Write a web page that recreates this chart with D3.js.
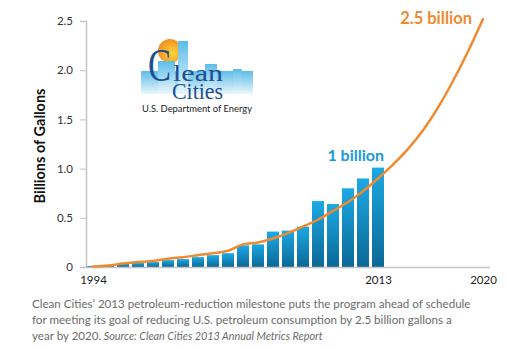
<!DOCTYPE html>
<html>
<head>
<meta charset="utf-8">
<script src="https://cdn.jsdelivr.net/npm/d3@7"></script>
<style>
  body { margin: 0; background: #fff; }
  svg { display: block; }
</style>
</head>
<body>
<div id="chart"></div>
<script>
// Clean Cities petroleum reduction, billions of gallons
const barYears = [1994, 1995, 1996, 1997, 1998, 1999, 2000, 2001, 2002, 2003,
                  2004, 2005, 2006, 2007, 2008, 2009, 2010, 2011, 2012, 2013];
const barValues = [0.01, 0.02, 0.035, 0.04, 0.05, 0.07, 0.08, 0.10, 0.12, 0.14,
                   0.22, 0.23, 0.36, 0.37, 0.41, 0.67, 0.64, 0.80, 0.90, 1.01];

// orange trend / goal line
const lineYears = [1994, 1995, 1996, 1997, 1998, 1999, 2000, 2001, 2002, 2003, 2004, 2005, 2006,
                   2007, 2008, 2009, 2010, 2011, 2012, 2013, 2014, 2015, 2016, 2017, 2018, 2019, 2020];
const lineValues = [0.005, 0.015, 0.035, 0.05, 0.06, 0.085, 0.10, 0.12, 0.14, 0.165, 0.23, 0.25, 0.29,
                    0.345, 0.41, 0.48, 0.57, 0.66, 0.77, 0.90, 1.04, 1.20, 1.39, 1.62, 1.89, 2.19, 2.52];

const yTicks = [0, 0.5, 1.0, 1.5, 2.0, 2.5];
const xTicks = [1994, 2013, 2020];

const captionLines = [
    "Clean Cities\u2019 2013 petroleum-reduction milestone puts the program ahead of schedule",
    "for meeting its goal of reducing U.S. petroleum consumption by 2.5 billion gallons a",
    "year by 2020."
];
const sourceText = "Source: Clean Cities 2013 Annual Metrics Report";

const W = 508, H = 350;
const orange = "#ef8a30";
const blue = "#1a9bd7";

const svg = d3.select("#chart").append("svg")
    .attr("width", W)
    .attr("height", H);

const defs = svg.append("defs");

const barGrad = defs.append("linearGradient")
    .attr("id", "barGrad")
    .attr("x1", 0).attr("y1", 0).attr("x2", 0).attr("y2", 1);
barGrad.append("stop").attr("offset", "0%").attr("stop-color", "#1ba9e4");
barGrad.append("stop").attr("offset", "100%").attr("stop-color", "#0b6896");

const skyGrad = defs.append("linearGradient")
    .attr("id", "skyGrad")
    .attr("x1", 0).attr("y1", 0).attr("x2", 0).attr("y2", 1);
skyGrad.append("stop").attr("offset", "0%").attr("stop-color", "#5cbdea");
skyGrad.append("stop").attr("offset", "100%").attr("stop-color", "#eaf6fc");

const sunGrad = defs.append("radialGradient")
    .attr("id", "sunGrad")
    .attr("cx", "60%").attr("cy", "60%").attr("r", "60%");
sunGrad.append("stop").attr("offset", "0%").attr("stop-color", "#fcd53c");
sunGrad.append("stop").attr("offset", "100%").attr("stop-color", "#f2921f");

// scales
const x = d3.scaleLinear().domain([1994, 2020]).range([93, 483]);
const y = d3.scaleLinear().domain([0, 2.5]).range([267, 21]);
const barW = 12;

// logo
const logo = svg.append("g").attr("class", "logo");
logo.append("circle").attr("cx", 170).attr("cy", 51).attr("r", 12).attr("fill", "url(#sunGrad)");
const buildings = [
    [141, 71, 112, 23],
    [158, 61, 17, 33],
    [178, 41, 10, 53],
    [205, 64, 12, 30],
    [233, 69, 9, 25]
];
logo.selectAll(".bld")
    .data(buildings)
    .join("rect")
    .attr("class", "bld")
    .attr("x", d => d[0]).attr("y", d => d[1])
    .attr("width", d => d[2]).attr("height", d => d[3])
    .attr("fill", "url(#skyGrad)");

const mark = logo.append("text")
    .attr("font-family", "Liberation Serif, serif")
    .attr("fill", "#1d4f92");
mark.append("tspan")
    .attr("x", 148).attr("y", 81)
    .attr("font-size", 46)
    .attr("textLength", 23).attr("lengthAdjust", "spacingAndGlyphs")
    .text("C");
mark.append("tspan")
    .attr("x", 173).attr("y", 81)
    .attr("font-size", 23)
    .attr("textLength", 50).attr("lengthAdjust", "spacingAndGlyphs")
    .text("lean");
mark.append("tspan")
    .attr("x", 172).attr("y", 99)
    .attr("font-size", 23)
    .attr("textLength", 51).attr("lengthAdjust", "spacingAndGlyphs")
    .text("Cities");

logo.append("text")
    .attr("x", 142).attr("y", 112)
    .attr("font-family", "Lato, sans-serif")
    .attr("font-size", 9.5)
    .attr("fill", "#222")
    .attr("textLength", 110).attr("lengthAdjust", "spacingAndGlyphs")
    .text("U.S. Department of Energy");

// bars
svg.selectAll(".bar")
    .data(barYears.map((yr, i) => ({ year: yr, value: barValues[i] })))
    .join("rect")
    .attr("class", "bar")
    .attr("x", d => x(d.year) - barW / 2)
    .attr("y", d => y(d.value))
    .attr("width", barW)
    .attr("height", d => y(0) - y(d.value))
    .attr("fill", "url(#barGrad)");

// y axis
const yAxis = svg.append("g")
    .attr("transform", "translate(86,0)")
    .call(d3.axisLeft(y)
        .tickValues(yTicks)
        .tickSize(6)
        .tickPadding(7)
        .tickFormat(d => d === 0 ? "0" : d3.format(".1f")(d)));
yAxis.select(".domain").attr("stroke", "#c4c4c4").attr("stroke-width", 1.5);
yAxis.selectAll(".tick line").attr("stroke", "#c4c4c4");
yAxis.selectAll(".tick text")
    .attr("font-family", "Lato, sans-serif")
    .attr("font-size", 11.5)
    .attr("fill", "#333");

// x axis
svg.append("line")
    .attr("x1", 86).attr("x2", 490)
    .attr("y1", y(0) + 0.5).attr("y2", y(0) + 0.5)
    .attr("stroke", "#c4c4c4").attr("stroke-width", 1.5);
const xAxis = svg.append("g")
    .attr("transform", `translate(0,${y(0)})`)
    .call(d3.axisBottom(x)
        .tickValues(xTicks)
        .tickSize(0)
        .tickPadding(9)
        .tickFormat(d3.format("d")));
xAxis.select(".domain").remove();
xAxis.selectAll(".tick text")
    .attr("font-family", "Lato, sans-serif")
    .attr("font-size", 11.5)
    .attr("fill", "#222");

// orange line
const line = d3.line()
    .x(d => x(d.year))
    .y(d => y(d.value))
    .curve(d3.curveMonotoneX);
svg.append("path")
    .datum(lineYears.map((yr, i) => ({ year: yr, value: lineValues[i] })))
    .attr("d", line)
    .attr("fill", "none")
    .attr("stroke", orange)
    .attr("stroke-width", 2.5)
    .attr("stroke-linecap", "round");

// y title
svg.append("text")
    .attr("transform", "translate(45,146) rotate(-90)")
    .attr("text-anchor", "middle")
    .attr("font-family", "Lato, sans-serif")
    .attr("font-weight", "bold")
    .attr("font-size", 14.5)
    .attr("fill", "#111")
    .text("Billions of Gallons");

// annotations
svg.append("text")
    .attr("x", x(2013) + 6)
    .attr("y", y(barValues[barValues.length - 1]) - 7)
    .attr("text-anchor", "end")
    .attr("font-family", "Lato, sans-serif")
    .attr("font-weight", "bold")
    .attr("font-size", 16)
    .attr("fill", blue)
    .text("1 billion");

svg.append("text")
    .attr("x", x(2020) - 11)
    .attr("y", y(2.5) + 3)
    .attr("text-anchor", "end")
    .attr("font-family", "Lato, sans-serif")
    .attr("font-weight", "bold")
    .attr("font-size", 16.5)
    .attr("fill", orange)
    .text("2.5 billion");

// caption
const cap = svg.append("g")
    .attr("font-family", "Lato, sans-serif")
    .attr("font-size", 11.6)
    .attr("fill", "#6b6b6b");
captionLines.forEach((t, i) => {
    const txt = cap.append("text")
        .attr("x", 32)
        .attr("y", 308 + i * 16)
        .text(t);
    if (i === captionLines.length - 1) {
        txt.append("tspan")
            .attr("font-style", "italic")
            .attr("font-size", 10.8)
            .text(" " + sourceText);
    }
});
</script>
</body>
</html>
